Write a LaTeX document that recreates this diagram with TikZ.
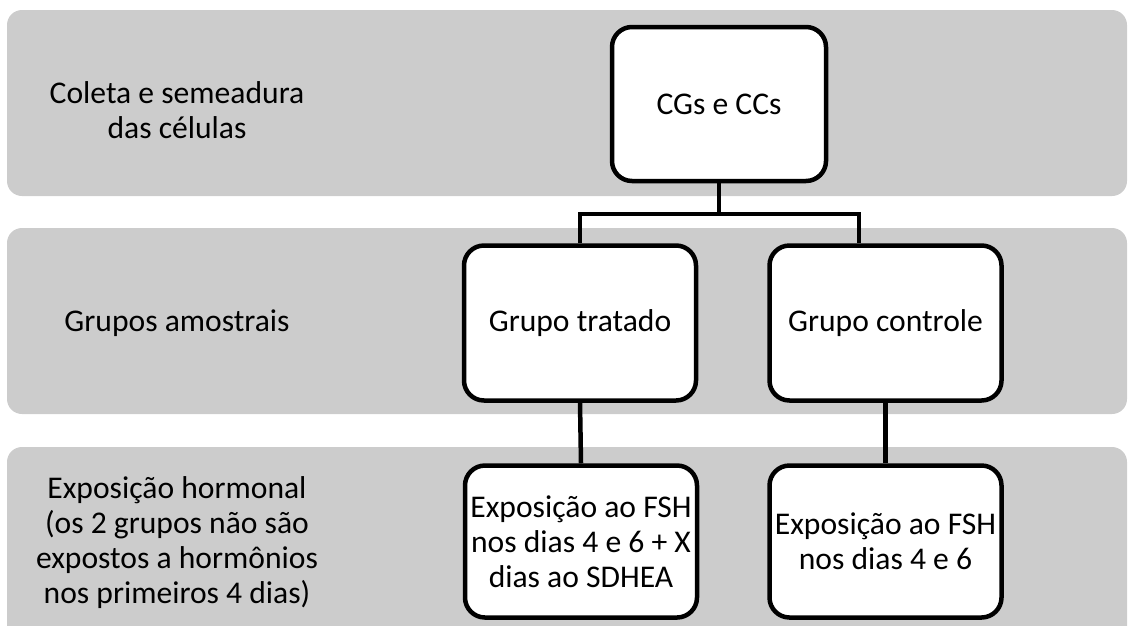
\documentclass[tikz,border=0pt]{standalone}
\usepackage{fontspec}
\setmainfont{Carlito}
\tikzset{
  band/.style={fill=gray!40,rounded corners=15pt},
  stepbox/.style={draw,fill=white,line width=4.5pt,rounded corners=20pt,
    align=center,inner sep=0pt,minimum width=232pt,minimum height=155pt},
  rowlabel/.style={align=center,inner sep=0pt},
  link/.style={line width=4.5pt}
}
\begin{document}
\begin{tikzpicture}[x=1pt,y=-1pt,font=\fontsize{31.6}{35}\selectfont]
  \clip
    (0,0)
    rectangle
    (1131,625);
  \fill[band]
    (7,10)
    rectangle
    (1127,196);
  \fill[band]
    (7,228)
    rectangle
    (1127,414);
  \fill[band]
    (7,447)
    rectangle
    (1127,680);
  \node[rowlabel] (coleta) at (177,110) {Coleta e semeadura\\das células};
  \node[rowlabel] (grupos) at (177,323) {Grupos amostrais};
  \node[rowlabel] (exposicao) at (177,543)
    {Exposição hormonal\\(os 2 grupos não são\\expostos a hormônios\\nos primeiros 4 dias)};
  \node[stepbox,minimum width=214pt,minimum height=154pt] (cgcc) at (719,104) {CGs e CCs};
  \node[stepbox] (tratado) at (580,323) {Grupo tratado};
  \node[stepbox] (controle) at (885.5,323) {Grupo controle};
  \node[stepbox,minimum height=152pt] (fshx) at (581,541.5)
    {Exposição ao FSH\\nos dias 4 e 6 + X\\dias ao SDHEA};
  \node[stepbox,minimum height=152pt] (fsh) at (885.5,541.5)
    {Exposição ao FSH\\nos dias 4 e 6};
  \coordinate (split) at (719,214);
  \coordinate (splitL) at (580,214);
  \coordinate (splitR) at (859,214);
  \draw[link]
    (cgcc.south)
    --
    (split);
  \draw[link,line cap=rect]
    (splitL)
    --
    (splitR);
  \draw[link]
    (splitL)
    --
    (tratado.north);
  \draw[link]
    (splitR)
    --
    (splitR |- controle.north);
  \draw[link]
    (tratado.south)
    --
    (fshx.north);
  \draw[link]
    (controle.south)
    --
    (fsh.north);
\end{tikzpicture}
\end{document}
